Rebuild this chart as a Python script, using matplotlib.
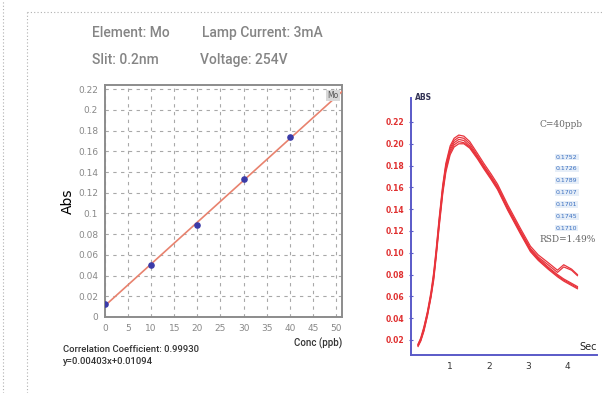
import matplotlib.pyplot as plt
from matplotlib.lines import Line2D

# calibration data (left chart)
conc = [0, 10, 20, 30, 40]
absorb = [0.013, 0.050, 0.089, 0.133, 0.174]
slope = 0.00403
intercept = 0.01094
fit_x = [0, 52]

x_ticks = [0, 5, 10, 15, 20, 25, 30, 35, 40, 45, 50]
y_ticks = [0, 0.02, 0.04, 0.06, 0.08, 0.1, 0.12, 0.14, 0.16, 0.18, 0.2, 0.22]
y_labels = ["0", "0.02", "0.04", "0.06", "0.08", "0.1", "0.12", "0.14",
            "0.16", "0.18", "0.2", "0.22"]

# repeated peak traces (right chart)
sec = [0.18, 0.25, 0.33, 0.42, 0.51, 0.58, 0.64, 0.72, 0.81, 0.89, 1.0, 1.1, 1.22,
       1.35, 1.5, 1.7, 1.86, 2.05, 2.21, 2.47, 2.8, 3.05, 3.25, 3.5, 3.74, 3.9, 4.1, 4.25]
traces = [
    [0.016, 0.022, 0.032, 0.046, 0.064, 0.082, 0.102, 0.132, 0.162, 0.182, 0.198, 0.205,
     0.208, 0.207, 0.202, 0.191, 0.182, 0.172, 0.163, 0.144, 0.122, 0.106, 0.098, 0.091,
     0.084, 0.089, 0.085, 0.080],
    [0.016, 0.021, 0.031, 0.045, 0.062, 0.080, 0.100, 0.130, 0.160, 0.180, 0.196, 0.203,
     0.206, 0.205, 0.200, 0.189, 0.180, 0.170, 0.161, 0.142, 0.120, 0.104, 0.096, 0.089,
     0.082, 0.087, 0.084, 0.079],
    [0.015, 0.020, 0.030, 0.044, 0.061, 0.078, 0.098, 0.128, 0.158, 0.178, 0.194, 0.201,
     0.204, 0.203, 0.198, 0.188, 0.179, 0.169, 0.160, 0.141, 0.119, 0.103, 0.095, 0.087,
     0.080, 0.076, 0.072, 0.069],
    [0.015, 0.020, 0.029, 0.043, 0.060, 0.077, 0.097, 0.126, 0.156, 0.176, 0.192, 0.199,
     0.202, 0.201, 0.197, 0.187, 0.178, 0.168, 0.159, 0.140, 0.118, 0.102, 0.094, 0.086,
     0.079, 0.075, 0.071, 0.068],
    [0.014, 0.019, 0.028, 0.042, 0.059, 0.075, 0.095, 0.124, 0.154, 0.174, 0.190, 0.197,
     0.200, 0.200, 0.196, 0.186, 0.177, 0.167, 0.158, 0.139, 0.117, 0.101, 0.093, 0.085,
     0.078, 0.074, 0.070, 0.067],
]
rep_values = ["0.1752", "0.1726", "0.1789", "0.1707", "0.1701", "0.1745", "0.1710"]
r_ticks = [0.02, 0.04, 0.06, 0.08, 0.10, 0.12, 0.14, 0.16, 0.18, 0.20, 0.22]
sec_ticks = [1, 2, 3, 4]

W, H = 604, 393
fig = plt.figure(figsize=(W / 100, H / 100), dpi=100)
narrow = ["Roboto", "DejaVu Sans"]


def box(l, t, r, b):
    # pixel box -> figure fraction
    return [l / W, 1 - b / H, (r - l) / W, (b - t) / H]


# dotted frame lines
fig.add_artist(Line2D([3 / W, 3 / W], [0, 1], color="#b0b0b0", lw=0.8, ls=(0, (1, 2))))
fig.add_artist(Line2D([27 / W, 27 / W], [0, 1 - 12 / H], color="#b0b0b0", lw=0.8, ls=(0, (1, 2))))
fig.add_artist(Line2D([27 / W, 1], [1 - 12 / H, 1 - 12 / H], color="#b0b0b0", lw=0.8, ls=(0, (1, 2))))

# header
hdr = dict(color="#858585", fontsize=10, va="center", family=narrow, fontweight="medium")
fig.text(92 / W, 1 - 33 / H, "Element: Mo", **hdr)
fig.text(202 / W, 1 - 33 / H, "Lamp Current: 3mA", **hdr)
fig.text(92 / W, 1 - 60 / H, "Slit: 0.2nm", **hdr)
fig.text(200 / W, 1 - 60 / H, "Voltage: 254V", **hdr)

# ---- left: calibration curve ----
ax = fig.add_axes(box(105, 85, 342, 317))
ax.set_xlim(0, 51.3)
ax.set_ylim(0, 0.224)
ax.plot(fit_x, [slope * x + intercept for x in fit_x], color="#e8826e", lw=1.2, zorder=3)
ax.scatter(conc, absorb, color="#3a3aa8", s=14, zorder=4)
ax.set_xticks(x_ticks)
ax.set_yticks(y_ticks)
ax.set_yticklabels(y_labels)
ax.tick_params(labelsize=6.5, colors="#888888", length=0, pad=5)
ax.grid(True, color="#a8a8a8", ls=(0, (3, 4)), lw=0.8)
for s in ax.spines.values():
    s.set_color("#8c8c8c")
    s.set_linewidth(1.4)
ax.text(0.985, 0.975, "Mo", transform=ax.transAxes, ha="right", va="top", fontsize=5.5,
        color="#555555", bbox=dict(fc="#d8d8d8", ec="none", pad=0.8))
ax.set_ylabel("Abs", fontsize=10, labelpad=2)
fig.text(342 / W, 1 - 343 / H, "Conc (ppb)", ha="right", va="center", fontsize=7,
         color="#333333", family=narrow, fontweight="medium")
fig.text(63 / W, 1 - 350 / H, "Correlation Coefficient: 0.99930", fontsize=6.8,
         color="#333333", va="center", family=narrow, fontweight="medium")
fig.text(63 / W, 1 - 362 / H, "y=0.00403x+0.01094", fontsize=6.8, color="#333333",
         va="center", family=narrow, fontweight="medium")

# ---- right: repeated peaks ----
ax2 = fig.add_axes(box(411, 98, 597, 355))
ax2.set_xlim(0, 4.75)
ax2.set_ylim(0.0062, 0.242)
for tr in traces:
    ax2.plot(sec, tr, color="#e8343c", lw=0.9)
for side in ["top", "right"]:
    ax2.spines[side].set_visible(False)
for side in ["left", "bottom"]:
    ax2.spines[side].set_color("#5a5ac8")
    ax2.spines[side].set_linewidth(1.4)
ax2.set_yticks(r_ticks)
ax2.set_yticklabels(["%.2f" % v for v in r_ticks])
ax2.set_xticks(sec_ticks)
ax2.tick_params(axis="y", labelsize=5.5, labelcolor="#e03030", color="#5a5ac8",
                length=3, direction="inout", pad=3)
for lab in ax2.get_yticklabels():
    lab.set_fontweight("bold")
ax2.tick_params(axis="x", labelsize=6.5, labelcolor="#333333", length=0, pad=5)
ax2.text(0.02, 1.0, "ABS", transform=ax2.transAxes, fontsize=5.5, fontweight="bold",
         color="#333355", va="center")
ax2.text(0.69, 0.895, "C=40ppb", transform=ax2.transAxes, fontsize=6.5, color="#666666",
         family="DejaVu Serif", va="center")
for i, v in enumerate(rep_values):
    ax2.text(0.78, 0.77 - i * 0.046, v, transform=ax2.transAxes, fontsize=4.5,
             color="#3a6fc0", va="center",
             bbox=dict(fc="#e6eef8", ec="none", pad=0.6))
ax2.text(0.69, 0.45, "RSD=1.49%", transform=ax2.transAxes, fontsize=6.5, color="#666666",
         family="DejaVu Serif", va="center")
fig.text(597 / W, 1 - 347 / H, "Sec", ha="right", va="center", fontsize=7, color="#222222")

fig.savefig("out.png", dpi=100)
